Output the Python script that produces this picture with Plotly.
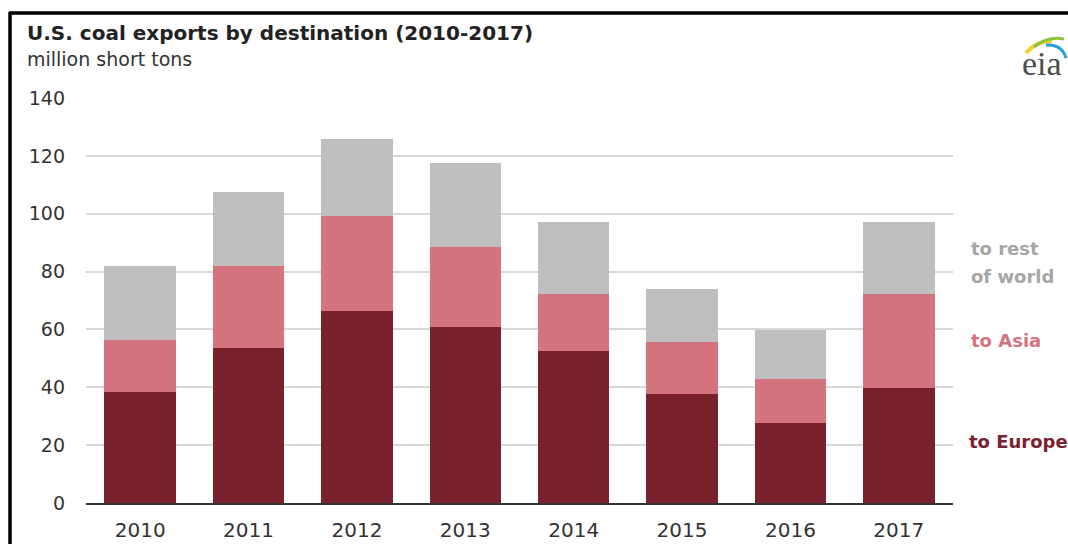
import plotly.graph_objects as go

years = ["2010", "2011", "2012", "2013", "2014", "2015", "2016", "2017"]
europe = [38.4, 53.7, 66.5, 60.7, 52.4, 37.8, 27.5, 39.6]
asia = [17.9, 28.3, 32.7, 27.7, 19.9, 17.8, 15.2, 32.7]
rest = [25.6, 25.4, 26.6, 29.0, 24.8, 18.4, 17.1, 24.8]
y_ticks = [0, 20, 40, 60, 80, 100, 120, 140]

W, H = 1068, 544
L, R, T, B = 86, 953, 98, 503

def px(x, y):
    return (x - L) / (R - L), (B - y) / (B - T)

FONT = "DejaVu Sans"

fig = go.Figure()
for name, vals, col in [("to Europe", europe, "#79222d"),
                        ("to Asia", asia, "#d5737f"),
                        ("to rest of world", rest, "#bfbfbf")]:
    fig.add_trace(go.Bar(x=years, y=vals, name=name, marker_color=col,
                         marker_line_width=0))

fig.update_layout(
    width=W, height=H,
    margin=dict(l=L, r=W - R, t=T, b=H - B),
    barmode="stack", bargap=0.34,
    showlegend=False,
    paper_bgcolor="white", plot_bgcolor="white",
    font=dict(family=FONT, color="#333333"),
)
fig.update_yaxes(range=[0, 140], tickvals=y_ticks, showgrid=True,
                 gridcolor="#d9d9d9", gridwidth=1.5, zeroline=False,
                 tickfont=dict(size=19, color="#333333"),
                 ticklabelstandoff=20, automargin=False)
fig.update_xaxes(showline=True, linecolor="#333333", linewidth=1.5,
                 tickfont=dict(size=20, color="#333333"),
                 ticklabelstandoff=8, automargin=False)

annots = [
    ("<b>U.S. coal exports by destination (2010-2017)</b>", 25, 33, 20, "#222222", "left"),
    ("million short tons", 25, 59, 19, "#333333", "left"),
    ("<b>to rest</b>", 969, 249, 18, "#a6a6a6", "left"),
    ("<b>of world</b>", 969, 276, 18, "#a6a6a6", "left"),
    ("<b>to Asia</b>", 969, 340, 18, "#d4737e", "left"),
    ("<b>to Europe</b>", 967, 441, 18, "#7a2230", "left"),
]
for text, x, y, size, col, anc in annots:
    xp, yp = px(x, y)
    fig.add_annotation(text=text, x=xp, y=yp, xref="paper", yref="paper",
                       xanchor=anc, yanchor="middle", showarrow=False,
                       font=dict(size=size, color=col, family=FONT))

# eia logo text
xp, yp = px(1042, 63)
fig.add_annotation(text="eia", x=xp, y=yp, xref="paper", yref="paper",
                   xanchor="center", yanchor="middle", showarrow=False,
                   font=dict(size=34, color="#4d4d4d", family="Liberation Serif"))

def path(points):
    (x0, y0), (cx, cy), (x1, y1) = points
    a = px(x0, y0); b = px(cx, cy); c = px(x1, y1)
    return f"M {a[0]} {a[1]} Q {b[0]} {b[1]} {c[0]} {c[1]}"

for pts, col, w in [
    (((1026, 53), (1036, 41), (1052, 41)), "#f2d22e", 4),
    (((1034, 47), (1048, 36), (1064, 39)), "#8cc63f", 3),
    (((1046, 45), (1062, 44), (1066, 58)), "#2a9fd8", 3),
]:
    fig.add_shape(type="path", path=path(pts), xref="paper", yref="paper",
                  line=dict(color=col, width=w))

# black frame
for (x0, y0, x1, y1) in [(9, 13, 1080, 13), (10, 12, 10, 560)]:
    a = px(x0, y0); b = px(x1, y1)
    fig.add_shape(type="line", x0=a[0], y0=a[1], x1=b[0], y1=b[1],
                  xref="paper", yref="paper", line=dict(color="black", width=3.5))

fig.write_html("out.html", config={"displayModeBar": False},
               post_script="document.body.style.margin='0';document.body.style.overflow='hidden';")
